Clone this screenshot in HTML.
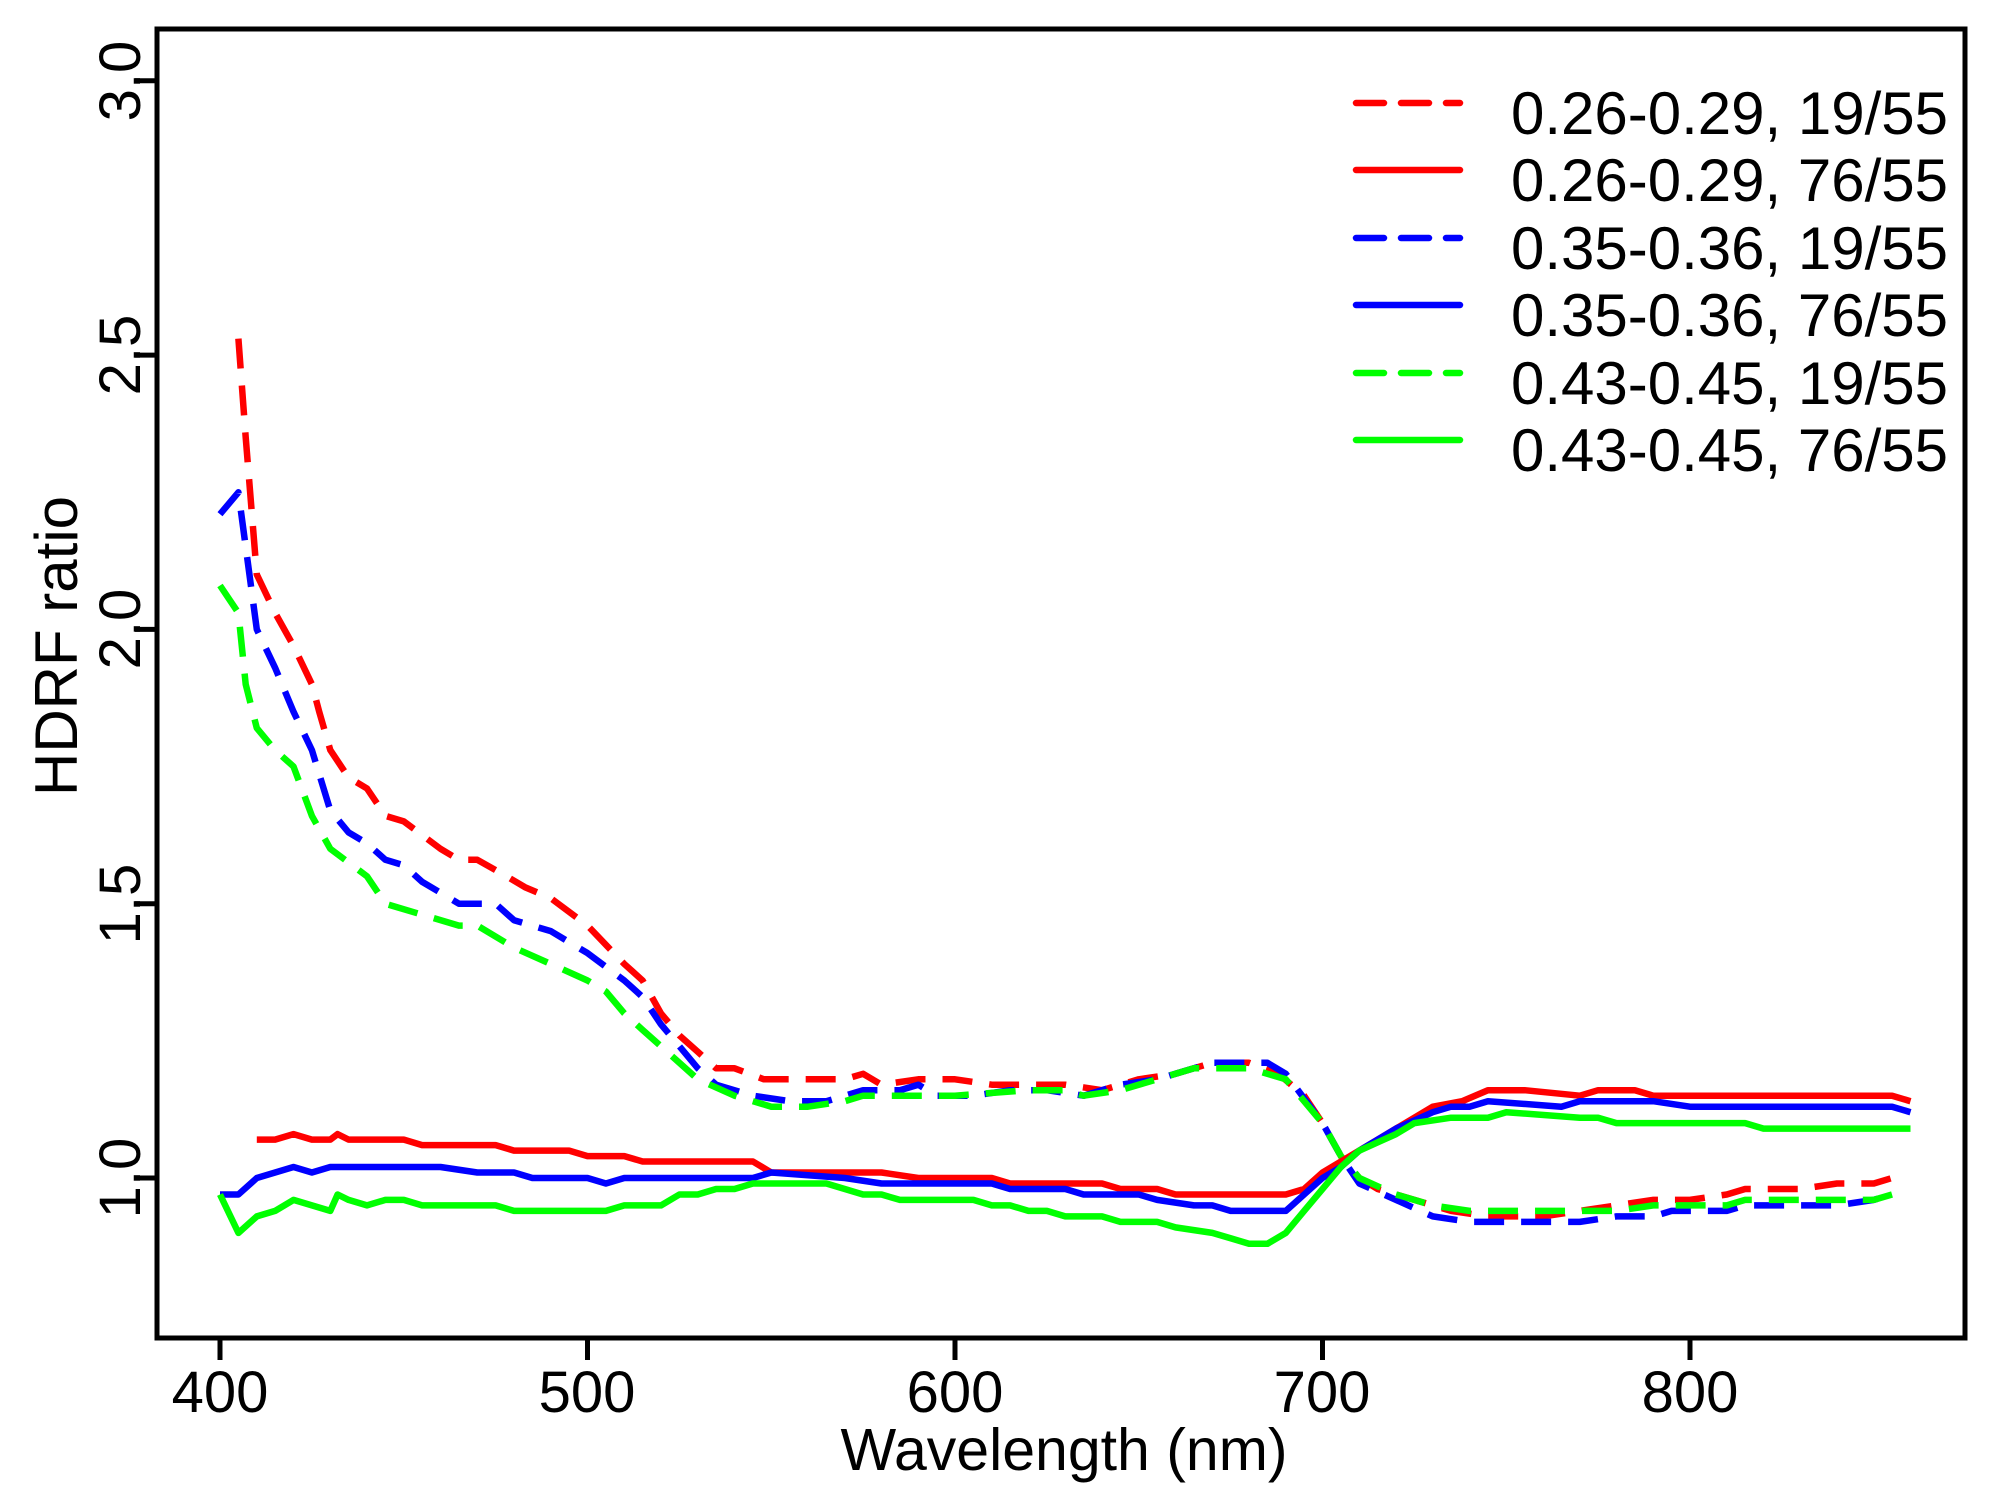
<!DOCTYPE html>
<html><head><meta charset="utf-8"><style>
html,body{margin:0;padding:0;background:#fff;}
svg{display:block;}
text{font-family:"Liberation Sans",Arial,sans-serif;fill:#000;}
</style></head><body>
<svg id="s" width="2005" height="1510" viewBox="0 0 2005 1510" xmlns="http://www.w3.org/2000/svg">
<rect x="157" y="29" width="1808" height="1309" fill="none" stroke="#000" stroke-width="5"/>
<g id="ticks" stroke="#000" stroke-width="5"></g>
<g font-size="58" text-anchor="middle">
<text x="220" y="1412">400</text>
<text x="587" y="1412">500</text>
<text x="955" y="1412">600</text>
<text x="1322" y="1412">700</text>
<text x="1690" y="1412">800</text>
</g>
<g font-size="58" text-anchor="middle">
<text transform="translate(140,1178) rotate(-90)">1.0</text>
<text transform="translate(140,904) rotate(-90)">1.5</text>
<text transform="translate(140,629) rotate(-90)">2.0</text>
<text transform="translate(140,355) rotate(-90)">2.5</text>
<text transform="translate(140,81) rotate(-90)">3.0</text>
</g>
<text x="1064" y="1470" font-size="59" text-anchor="middle">Wavelength (nm)</text>
<text transform="translate(77,646) rotate(-90)" font-size="60" text-anchor="middle">HDRF ratio</text>
<g id="series" fill="none" stroke-width="6.5" stroke-linejoin="round"></g>
<g stroke-width="6.5" stroke-linecap="round">
<line x1="1356" y1="103" x2="1460" y2="103" stroke="#ff0000" stroke-dasharray="28,17"/>
<line x1="1356" y1="170" x2="1460" y2="170" stroke="#ff0000"/>
<line x1="1356" y1="238" x2="1460" y2="238" stroke="#0000ff" stroke-dasharray="28,17"/>
<line x1="1356" y1="305" x2="1460" y2="305" stroke="#0000ff"/>
<line x1="1356" y1="373" x2="1460" y2="373" stroke="#00ff00" stroke-dasharray="28,17"/>
<line x1="1356" y1="440" x2="1460" y2="440" stroke="#00ff00"/>
</g>
<g font-size="60">
<text x="1511" y="134">0.26-0.29, 19/55</text>
<text x="1511" y="201">0.26-0.29, 76/55</text>
<text x="1511" y="269">0.35-0.36, 19/55</text>
<text x="1511" y="336">0.35-0.36, 76/55</text>
<text x="1511" y="404">0.43-0.45, 19/55</text>
<text x="1511" y="471">0.43-0.45, 76/55</text>
</g>
</svg>
<script>
function X(w){return 220+(w-400)*3.675;}
function Y(v){return 1178-(v-1)*548.6;}
var tk=document.getElementById('ticks'),h='';
[400,500,600,700,800].forEach(function(w){h+='<line x1="'+X(w)+'" y1="1338" x2="'+X(w)+'" y2="1360"/>';});
[1,1.5,2,2.5,3].forEach(function(v){h+='<line x1="157" y1="'+Y(v)+'" x2="135" y2="'+Y(v)+'"/>';});
tk.innerHTML=h;
var S=[
["#ff0000",1,[405,2.53,407,2.35,410,2.1,415,2.03,420,1.97,425,1.9,427,1.85,430,1.78,435,1.73,440,1.71,445,1.66,450,1.65,460,1.6,465,1.58,470,1.58,478,1.55,483,1.53,490,1.51,500,1.46,510,1.39,515,1.36,520,1.3,525,1.26,530,1.23,535,1.2,540,1.2,548,1.18,560,1.18,570,1.18,575,1.19,580,1.17,590,1.18,600,1.18,610,1.17,620,1.17,630,1.17,640,1.16,650,1.18,660,1.19,670,1.21,680,1.21,688,1.19,695,1.15,700,1.1,705,1.04,710,1.0,715,0.98,725,0.96,735,0.94,745,0.93,760,0.93,770,0.94,780,0.95,790,0.96,800,0.96,810,0.97,815,0.98,830,0.98,840,0.99,850,0.99,855,1.0]],
["#0000ff",1,[400,2.21,405,2.25,410,2.0,415,1.93,420,1.85,425,1.78,430,1.67,435,1.63,440,1.61,445,1.58,450,1.57,455,1.54,460,1.52,465,1.5,475,1.5,480,1.47,490,1.45,495,1.43,500,1.41,510,1.36,515,1.33,520,1.28,525,1.24,530,1.2,535,1.17,545,1.15,555,1.14,565,1.14,575,1.16,585,1.16,590,1.17,595,1.15,605,1.15,615,1.16,625,1.16,635,1.15,645,1.17,655,1.18,665,1.2,670,1.21,685,1.21,690,1.19,700,1.1,705,1.04,710,0.99,720,0.96,730,0.93,740,0.92,770,0.92,780,0.93,790,0.93,795,0.94,810,0.94,815,0.95,840,0.95,850,0.96,855,0.97]],
["#00ff00",1,[400,2.08,405,2.03,407,1.9,410,1.82,415,1.78,420,1.75,425,1.66,430,1.6,440,1.55,445,1.5,455,1.48,465,1.46,470,1.46,480,1.42,490,1.39,500,1.36,505,1.34,510,1.3,515,1.27,520,1.24,525,1.21,530,1.18,540,1.15,550,1.13,560,1.13,570,1.14,575,1.15,600,1.15,620,1.16,630,1.16,635,1.15,645,1.16,655,1.18,665,1.2,680,1.2,690,1.18,700,1.1,705,1.04,710,1.0,720,0.97,730,0.95,740,0.94,750,0.94,780,0.94,790,0.95,810,0.95,815,0.96,850,0.96,855,0.97]],
["#ff0000",0,[410,1.07,415,1.07,420,1.08,425,1.07,430,1.07,432,1.08,435,1.07,450,1.07,455,1.06,475,1.06,480,1.05,495,1.05,500,1.04,510,1.04,515,1.03,545,1.03,550,1.01,570,1.01,580,1.01,590,1.0,610,1.0,615,0.99,640,0.99,645,0.98,655,0.98,660,0.97,690,0.97,695,0.98,700,1.01,705,1.03,710,1.05,715,1.07,720,1.09,725,1.11,730,1.13,738,1.14,745,1.16,755,1.16,770,1.15,775,1.16,785,1.16,790,1.15,855,1.15,860,1.14]],
["#0000ff",0,[400,0.97,405,0.97,410,1.0,420,1.02,425,1.01,430,1.02,460,1.02,470,1.01,480,1.01,485,1.0,500,1.0,505,0.99,510,1.0,545,1.0,550,1.01,570,1.0,580,0.99,610,0.99,615,0.98,630,0.98,635,0.97,650,0.97,655,0.96,665,0.95,670,0.95,675,0.94,690,0.94,695,0.97,700,1.0,705,1.02,710,1.05,720,1.09,730,1.12,735,1.13,740,1.13,745,1.14,765,1.13,770,1.14,790,1.14,800,1.13,855,1.13,860,1.12]],
["#00ff00",0,[400,0.97,405,0.9,410,0.93,415,0.94,420,0.96,425,0.95,430,0.94,432,0.97,435,0.96,440,0.95,445,0.96,450,0.96,455,0.95,475,0.95,480,0.94,505,0.94,510,0.95,520,0.95,525,0.97,530,0.97,535,0.98,540,0.98,545,0.99,565,0.99,575,0.97,580,0.97,585,0.96,605,0.96,610,0.95,615,0.95,620,0.94,625,0.94,630,0.93,640,0.93,645,0.92,655,0.92,660,0.91,670,0.9,675,0.89,680,0.88,685,0.88,690,0.9,695,0.94,700,0.98,705,1.02,710,1.05,720,1.08,725,1.1,735,1.11,745,1.11,750,1.12,770,1.11,775,1.11,780,1.1,815,1.1,820,1.09,860,1.09]]
];
var g='';
S.forEach(function(s){var p=[];for(var i=0;i<s[2].length;i+=2)p.push(X(s[2][i]).toFixed(1)+','+Y(s[2][i+1]).toFixed(1));
g+='<polyline points="'+p.join(' ')+'" stroke="'+s[0]+'"'+(s[1]?' stroke-dasharray="30,17"':'')+'/>';});
document.getElementById('series').innerHTML=g;
</script>
</body></html>
